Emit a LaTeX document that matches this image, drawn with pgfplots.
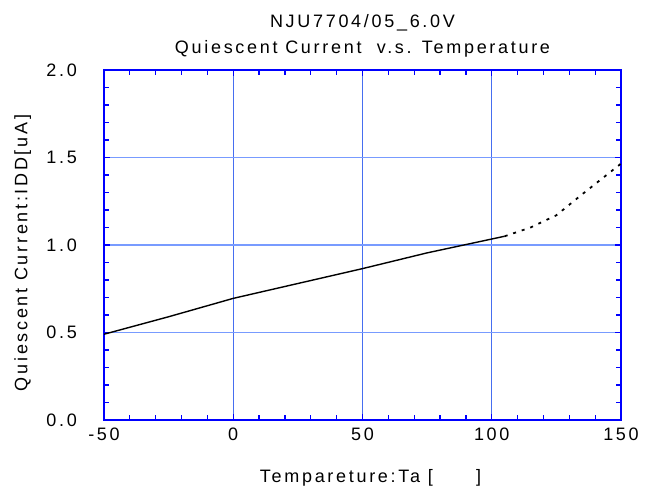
\documentclass[border=0pt]{standalone}
\usepackage{pgfplots}
\pgfplotsset{compat=1.18}
\usepackage{fontspec}
\setmainfont{Liberation Sans}[LetterSpace=15]
\definecolor{gridblue}{RGB}{70,110,240}
\definecolor{gridlight}{RGB}{120,155,255}
\begin{document}
\fontsize{18}{21}\selectfont
\begin{tikzpicture}
\begin{axis}[
  scale only axis,
  width=517pt, height=350pt,
  xmin=-50, xmax=150, ymin=0, ymax=2.0,
  xtick={-50,0,50,100,150},
  ytick={0,0.5,1.0,1.5,2.0},
  minor x tick num=4, minor y tick num=4,
  yticklabel style={/pgf/number format/fixed,/pgf/number format/fixed zerofill,/pgf/number format/precision=1},
  /pgf/number format/assume math mode=true,
  tick label style={font=\fontsize{18}{21}\selectfont},
  xticklabel style={yshift=-2pt},
  yticklabel style={xshift=-21pt},
  grid=major,
  major grid style={gridblue, line width=0.9pt},
  major y grid style={gridlight, line width=1.1pt},
  axis line style={blue, line width=1.6pt},
  tick style={blue, line width=1.2pt},
  major tick length=6pt, minor tick length=5pt,
  tick align=inside,
  title style={align=center, font=\fontsize{18}{26}\selectfont, yshift=1pt},
  title={NJU7704/05\_6.0V\\Quiescent Current \ v.s. Temperature},
  xlabel={Tempareture:Ta [\hspace{2.4em}]},
  ylabel={Quiescent Current:IDD[uA]},
  label style={font=\fontsize{18}{21}\selectfont},
  xlabel style={yshift=-16pt, xshift=8pt},
  ylabel style={yshift=3pt, xshift=-8pt},
  clip=true,
]
\addplot[black, line width=1.4pt] coordinates {
  (-50,0.49) (-25,0.59) (0,0.695) (25,0.78) (50,0.865) (75,0.955) (105,1.05)
};
\addplot[black, line width=1.8pt, dash pattern=on 3pt off 6pt] coordinates {
  (105,1.05) (115,1.10) (125,1.17) (135,1.29) (150,1.465)
};
\end{axis}
\pgfresetboundingbox
\path (current axis.south west) ++(-104pt,-83pt) coordinate (bbA);
\path (current axis.north east) ++(35pt,70pt) coordinate (bbB);
\useasboundingbox (bbA) rectangle (bbB);
\end{tikzpicture}
\end{document}
